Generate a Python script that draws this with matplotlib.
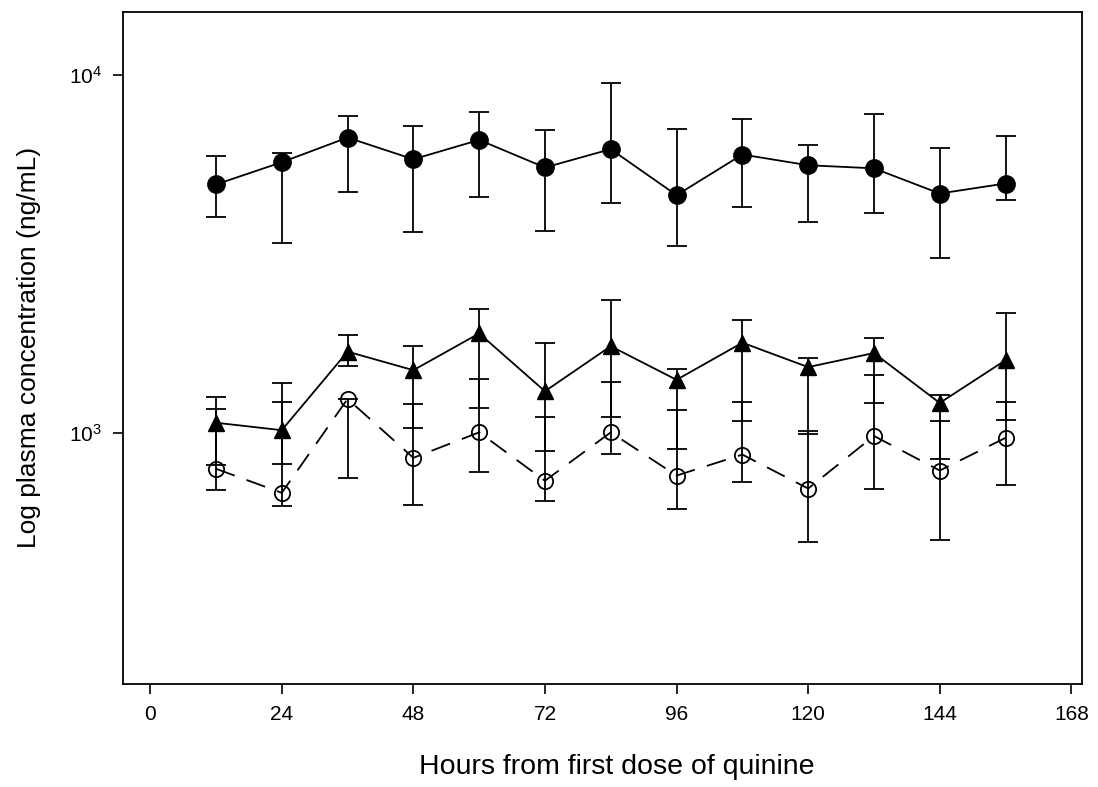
import matplotlib
matplotlib.use("Agg")
import matplotlib.pyplot as plt
import matplotlib.ticker as mticker
import numpy as np

plt.rcParams['font.family'] = ['Liberation Sans', 'DejaVu Sans']
plt.rcParams['mathtext.default'] = 'regular'

hours = [12, 24, 36, 48, 60, 72, 84, 96, 108, 120, 132, 144, 156]

# filled circles
circ = [4950, 5710, 6690, 5820, 6590, 5520, 6210, 4620, 6000, 5600, 5490, 4670, 4980]
circ_hi = [5960, 6060, 7690, 7230, 7870, 7010, 9480, 7050, 7530, 6360, 7770, 6260, 6740]
circ_lo = [4020, 3400, 4730, 3650, 4560, 3670, 4380, 3330, 4280, 3900, 4120, 3080, 4480]

# filled triangles
tri = [1070, 1020, 1690, 1500, 1900, 1310, 1750, 1410, 1790, 1530, 1675, 1215, 1600]
tri_hi = [1265, 1385, 1885, 1750, 2230, 1790, 2350, 1510, 2075, 1620, 1845, 1275, 2160]
tri_lo = [818, 822, 1545, 1035, 1177, 893, 1113, 901, 1080, 996, 1212, 845, 1090]

# open circles
ocirc = [796, 682, 1247, 854, 1006, 737, 1006, 762, 872, 701, 983, 787, 971]
ocirc_hi = [1172, 1220, 1250, 1207, 1418, 1108, 1393, 1164, 1226, 1013, 1457, 1080, 1220]
ocirc_lo = [694, 626, 749, 632, 781, 647, 878, 613, 729, 497, 701, 503, 717]


def err(mid, lo, hi):
    mid = np.array(mid, dtype=float)
    return [mid - np.array(lo), np.array(hi) - mid]


fig = plt.figure(figsize=(10.98, 7.87), dpi=100)
ax = fig.add_axes([0.1118, 0.1313, 0.8739, 0.8535])

lw = 1.3
ax.errorbar(hours, ocirc, yerr=err(ocirc, ocirc_lo, ocirc_hi), fmt='o', color='black',
            mfc='none', mec='black', ms=11, mew=lw, elinewidth=lw, capsize=7, capthick=lw,
            ls=(0, (11, 7)), lw=lw)
ax.errorbar(hours, tri, yerr=err(tri, tri_lo, tri_hi), fmt='^-', color='black',
            ms=11, elinewidth=lw, capsize=7, capthick=lw, lw=lw)
ax.errorbar(hours, circ, yerr=err(circ, circ_lo, circ_hi), fmt='o-', color='black',
            ms=12.5, elinewidth=lw, capsize=7, capthick=lw, lw=lw)

ax.set_yscale('log')
ax.set_ylim(200, 15000)
ax.set_xlim(-5, 170)
ax.set_xticks(range(0, 169, 24))
ax.yaxis.set_major_locator(mticker.FixedLocator([1000, 10000]))
ax.yaxis.set_major_formatter(mticker.FixedFormatter(['$10^{3}$', '$10^{4}$']))
ax.yaxis.set_minor_locator(mticker.NullLocator())

for s in ax.spines.values():
    s.set_linewidth(1.3)
ax.tick_params(direction='out', length=7, width=1.2, labelsize=15, pad=8)

ax.set_xlabel('Hours from first dose of quinine', fontsize=20.5)
ax.xaxis.set_label_coords(0.515, -0.105)
ax.set_ylabel('Log plasma concentration (ng/mL)', fontsize=19, labelpad=20)

fig.savefig('out.png', dpi=100)
